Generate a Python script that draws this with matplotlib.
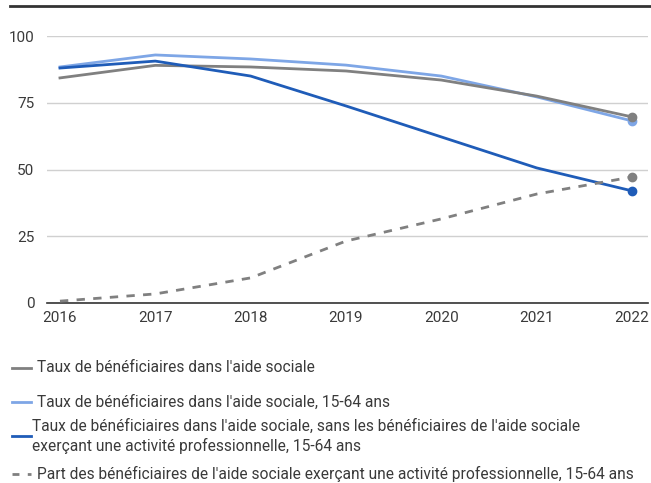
import numpy as np
import matplotlib.pyplot as plt
from matplotlib.lines import Line2D

plt.rcParams['font.family'] = ['Roboto', 'DejaVu Sans']

years = [2016, 2017, 2018, 2019, 2020, 2021, 2022]

# taux de bénéficiaires (%)
taux_total = [84.3, 89.0, 88.4, 86.9, 83.5, 77.5, 69.7]
taux_1564 = [88.4, 92.9, 91.4, 89.1, 85.0, 77.2, 68.2]
taux_sans_actifs = [88.0, 90.6, 85.0, 73.8, 62.2, 50.6, 42.0]
part_actifs = [0.7, 3.4, 9.4, 23.2, 31.5, 40.8, 47.2]

labels = [
    "Taux de bénéficiaires dans l'aide sociale",
    "Taux de bénéficiaires dans l'aide sociale, 15-64 ans",
    "Taux de bénéficiaires dans l'aide sociale, sans les bénéficiaires de l'aide sociale\nexerçant une activité professionnelle, 15-64 ans",
    "Part des bénéficiaires de l'aide sociale exerçant une activité professionnelle, 15-64 ans",
]
series = [taux_total, taux_1564, taux_sans_actifs, part_actifs]
colors = ['#808080', '#7ea6e6', '#1f5cb8', '#808080']
styles = ['-', '-', '-', (0, (3, 3))]
draw_order = [1, 0, 2, 3]

fig = plt.figure(figsize=(6.51, 4.83), dpi=100)
ax = fig.add_axes([47 / 651, 1 - 303 / 483, 601 / 651, 267 / 483])

for i in draw_order:
    ax.plot(years, series[i], color=colors[i], linestyle=styles[i], linewidth=2,
            clip_on=False, zorder=3)
    ax.plot(years[-1], series[i][-1], 'o', color=colors[i], markersize=6,
            clip_on=False, zorder=4)

ax.set_xlim(2015.864, 2022.168)
ax.set_ylim(0, 100)
ax.set_xticks(years)
ax.set_yticks([0, 25, 50, 75, 100])
ax.grid(axis='y', color='#d0d0d0', linewidth=1)
ax.set_axisbelow(True)
for s in ['top', 'right', 'left']:
    ax.spines[s].set_visible(False)
ax.spines['bottom'].set_color('#333333')
ax.spines['bottom'].set_linewidth(1.2)
ax.tick_params(axis='both', length=0, labelsize=11, colors='#3a3a3a')
ax.tick_params(axis='y', pad=9)
ax.tick_params(axis='x', pad=6)

# top rule
fig.add_artist(Line2D([10 / 651, 1], [1 - 6 / 483] * 2, color='#333333', linewidth=2))

# legend
rows = [368, 402, 436, 474]
for i, y in enumerate(rows):
    yf = 1 - y / 483
    if i == 3:
        fig.add_artist(Line2D([12 / 651, 31 / 651], [yf, yf], color=colors[i],
                              linestyle=(0, (2.5, 3)), linewidth=2))
    else:
        fig.add_artist(Line2D([12 / 651, 31 / 651], [yf, yf], color=colors[i], linewidth=2))
    x0 = 37 / 651 if i != 2 else 32 / 651
    fig.text(x0, yf, labels[i], fontsize=11.2, color='#3a3a3a', va='center',
             linespacing=1.3)

fig.savefig('out.png', dpi=100)
